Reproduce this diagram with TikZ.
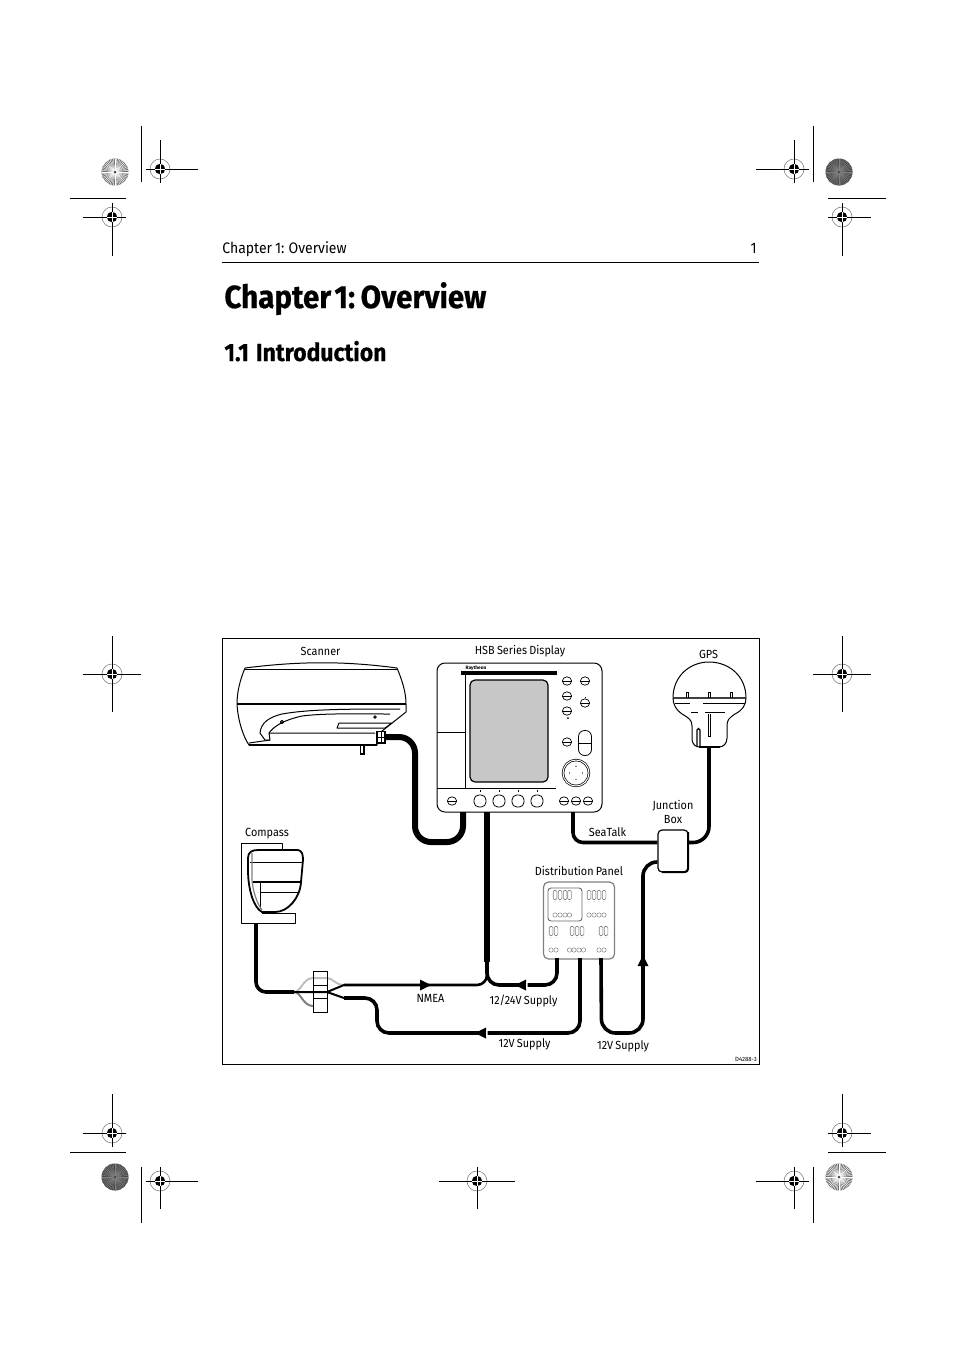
\documentclass[tikz,border=0pt]{standalone}
\usepackage{fontspec}
\setmainfont{Fira Sans}
\newfontfamily\lblfam[FakeStretch=.92,WordSpace=.8]{Fira Sans}
\newfontfamily\headfam[FakeStretch=.925,WordSpace=.45,BoldFeatures={FakeBold=.5}]{Fira Sans}
\usetikzlibrary{shapes.geometric}
\newcommand{\lblfont}{\lblfam\fontsize{5.9}{7}\selectfont}
% registration mark: x, y, left, right, up, down
\newcommand{\regmark}[6]{
  \draw[gray,line width=.3pt] (#1,#2) circle (10);
  \fill (#1,#2) circle (5.2);
  \draw[white,line width=.25pt] (#1-5,#2) -- (#1+5,#2) (#1,#2-5) -- (#1,#2+5);
  \draw[crop] (#1-#3,#2) -- (#1-5,#2) (#1+5,#2) -- (#1+#4,#2) (#1,#2-#5) -- (#1,#2-5) (#1,#2+5) -- (#1,#2+#6);
}
% colour target: x, y, disc, rays
\newcommand{\burst}[4]{
  \fill[#3] (#1,#2) circle (13.5);
  \foreach \a in {0,7.5,...,352.5} \draw[#4,line width=.2pt] (#1,#2) -- ++(\a:13.5);
  \fill[black!70] (#1,#2) circle (1.5);
}
\newcommand{\ctip}[3]{
  \fill[shift={(#1,#2)},rotate=#3] (0,0) -- (-11,5.5) -- (-11,-5.5) -- cycle;
}
\tikzset{
  crop/.style={line width=.5pt},
  cable/.style={line width=2.3pt,rounded corners=6pt},
  thincable/.style={line width=1.8pt,rounded corners=5pt},
  part/.style={line width=.5pt,line join=round},
  lbl/.style={font=\lblfont,inner sep=0pt,align=center},
  btn/.style={ellipse,draw,line width=.35pt,minimum width=4.6pt,minimum height=4.2pt,inner sep=0pt},
  softkey/.style={draw,line width=.4pt,rounded corners=2.4pt,minimum width=6pt,minimum height=6pt,inner sep=0pt},
  fuse/.style={draw=black!50,line width=.3pt,rounded corners=.5pt,minimum width=1.8pt,minimum height=4.5pt,inner sep=0pt},
  lamp/.style={circle,draw=black!50,line width=.25pt,minimum size=2.2pt,inner sep=0pt},
  block/.style={draw,line width=.5pt,minimum width=7pt,minimum height=6.75pt,inner sep=0pt}
}
\begin{document}
\begin{tikzpicture}[x=.5pt,y=-.5pt]
  \useasboundingbox (0,0) rectangle (954,1351);
  % printer marks
  \burst{115}{172}{black!55}{white}
  \burst{839}{172}{black!72}{black!50}
  \burst{115}{1177}{black!72}{black!50}
  \burst{839}{1177}{black!55}{white}
  \regmark{160}{169}{14}{38}{29}{14}
  \regmark{112}{217}{29}{14}{14}{39}
  \regmark{794}{169}{38}{15}{29}{14}
  \regmark{842}{217}{14}{29}{14}{39}
  \regmark{112}{674}{29}{29}{38}{38}
  \regmark{842}{674}{29}{29}{38}{38}
  \regmark{112}{1133}{29}{14}{39}{14}
  \regmark{842}{1133}{14}{29}{39}{14}
  \regmark{160}{1181}{14}{38}{14}{28}
  \regmark{794}{1181}{38}{15}{14}{28}
  \regmark{477}{1181}{38}{38}{14}{28}
  \draw[crop] (141,126) -- (141,182) (813,126) -- (813,182) (141,1167) -- (141,1223) (813,1167) -- (813,1223);
  \draw[crop] (70,198) -- (126,198) (828,198) -- (886,198) (70,1152) -- (126,1152) (828,1152) -- (886,1152);
  % page head
  \node[anchor=base west,inner sep=0pt,font=\lblfam\fontsize{7.6}{9}\selectfont] (head) at (222,253) {Chapter 1: Overview};
  \node[anchor=base east,inner sep=0pt,font=\lblfam\fontsize{7.6}{9}\selectfont] (pageno) at (757,253) {1};
  \draw[line width=.45pt] (222,262) -- (759,262);
  \node[anchor=base west,inner sep=0pt,font=\headfam\fontsize{16}{18}\bfseries\selectfont] (title) at (224,308) {Chapter 1: Overview};
  \node[anchor=base west,inner sep=0pt,font=\headfam\fontsize{12.4}{14}\bfseries\selectfont] (section) at (224,361) {1.1\hspace{3.5pt}Introduction};
  % frame
  \draw[line width=.42pt] (222,638) rectangle (759,1064);
  % scanner
  \draw[part] (245,668) .. controls (240,680) and (237,692) .. (237,704) .. controls (238,722) and (244,738) .. (249,745) -- (377,745) -- (377,735) -- (406,712) -- (406,704) .. controls (406,692) and (402,680) .. (397,668) .. controls (345,661) and (300,661) .. (245,668);
  \draw[line width=.9pt] (245,669.5) -- (397,669.5) (237,704) -- (406,704) (249,745) -- (377,745);
  \draw[part] (260,733) .. controls (261,722) and (270,717) .. (282,714) .. controls (310,709) and (350,709) .. (400,709);
  \draw[part] (269,733) .. controls (274,726) and (284,720) .. (302,716) .. controls (325,713) and (360,714) .. (390,714);
  \draw[part] (260,733) -- (265,740) -- (270,740) -- (269,733) -- (375,733);
  \draw[part] (249,743) -- (270,740);
  \draw[part] (337,728) -- (339,723) -- (392,723) -- (385,728) -- cycle;
  \draw[part] (282,722) circle (1.6) (375,717) circle (1.3);
  \draw[line width=.6pt] (360.5,745) -- (360.5,754) -- (364,754) -- (364,745);
  \node[draw,fill=white,line width=.9pt,minimum width=4pt,minimum height=5.6pt,inner sep=0pt] (scanport) at (381,737) {};
  \draw[line width=.5pt] (381,731) -- (381,743) (377,737) -- (385,737);
  % display
  \node[draw,line width=.5pt,rounded corners=4pt,minimum width=82.5pt,minimum height=74.5pt,inner sep=0pt] (display) at (519.5,737.5) {};
  \draw[line width=.5pt] (465,674) -- (465,788) (437,788) -- (556,788) (437,732) -- (465,732);
  \draw[line width=1.6pt] (461,673) -- (557,673);
  \node[draw,fill=black!22,line width=.6pt,rounded corners=2.5pt,minimum width=39pt,minimum height=51pt,inner sep=0pt] (screen) at (509,731) {};
  \node[lbl,font=\fontsize{2.4}{3}\bfseries\selectfont] (brand) at (476,668) {Raytheon};
  \foreach \x/\y [count=\n] in {567/681,585/681,567/696,585/703,567/711,567/742,452/801,564/801,576/801,588/801} {
    \node[btn] (btn\n) at (\x,\y) {};
    \draw[line width=.2pt] (btn\n.west) -- (btn\n.east);
  }
  \fill (568,718) circle (1);
  \draw[line width=.35pt] (585,697.5) -- (585,696.5);
  \node[draw,line width=.4pt,rounded corners=3pt,minimum width=6.5pt,minimum height=12.5pt,inner sep=0pt] (rangekey) at (585,743) {};
  \draw[line width=.2pt] (rangekey.west) -- (rangekey.east);
  \node[circle,draw,double,double distance=.5pt,line width=.35pt,minimum size=13pt,inner sep=0pt] (trackpad) at (576,773) {};
  \foreach \a in {0,90,180,270} \fill (trackpad.center) ++(\a:6.5) circle (.6);
  \foreach \x [count=\n] in {480,499,518,537} {
    \node[softkey] (soft\n) at (\x,801) {};
    \draw[line width=.3pt] (\x,790) -- (\x,792);
  }
  % compass
  \draw[part] (282,849) -- (282,843) -- (241,843) -- (241,923) -- (295,923) -- (295,913) -- (262,913);
  \draw[line width=.9pt,fill=white] (248,858) .. controls (248,852) and (252,850) .. (258,850) -- (298,850) .. controls (302,851) and (303,854) .. (303,860) -- (301,882) .. controls (300,898) and (288,912) .. (275,912) -- (262,912) .. controls (254,908) and (248,890) .. (248,870) -- cycle;
  \draw[part] (250,862) -- (302,862);
  \draw[line width=1pt] (253,881.5) -- (301,881.5);
  \draw[part] (260,882) -- (260,909) (260,892) -- (299,892);
  \draw[gray,line width=.6pt] (252,853) -- (252,880) .. controls (253,890) and (256,902) .. (262,910);
  \coordinate (compassout) at (256,923);
  % junction box
  \node[draw,fill=white,line width=.6pt,rounded corners=2pt,minimum width=15pt,minimum height=21pt,inner sep=0pt] (junction) at (673,851) {};
  \draw[line width=1pt,rounded corners=1.5pt] (688,832) -- (688,872) -- (662,872);
  % gps
  \draw[part] (673,698) .. controls (673,676) and (690,662) .. (709,662) .. controls (729,662) and (746,676) .. (746,698);
  \draw[line width=1.1pt,black!75] (673,698) -- (746,698);
  \draw[part] (673,698) .. controls (673,704) and (676,710) .. (682,714) .. controls (689,718) and (692,720) .. (692,726) -- (692,738) .. controls (692,745) and (696,747) .. (700,747);
  \draw[part] (746,698) .. controls (746,704) and (743,710) .. (735,714) .. controls (729,718) and (727,720) .. (727,726) -- (727,738) .. controls (727,744) and (723,747) .. (719,747);
  \draw[line width=1pt] (699,747) -- (720,747);
  \draw[part] (675,703.5) -- (690,703.5) (703,703.5) -- (745,703.5) (691,712) -- (698,712) (705,712) -- (725,712);
  \foreach \x in {687,709,731} \draw[line width=.4pt] (\x-1,698) -- (\x-1,692) -- (\x+1,692) -- (\x+1,698);
  \draw[line width=.4pt] (708,714) -- (708,736) -- (710,736) -- (710,714);
  \draw[line width=.6pt] (697,746) -- (697,730) .. controls (697,728) and (700,728) .. (700,730) -- (700,746);
  \coordinate (gpsout) at (709,747);
  % distribution panel
  \node[draw=black!50,line width=.6pt,rounded corners=2.5pt,minimum width=35.5pt,minimum height=38.5pt,inner sep=0pt] (panel) at (579,920.5) {};
  \node[draw=black!60,line width=.45pt,rounded corners=1.5pt,minimum width=17pt,minimum height=16.5pt,inner sep=0pt] (fuseblock) at (565,904.5) {};
  \foreach \x [count=\n] in {555,560,565,569.5,589,594,599,604} {
    \node[fuse] (fa\n) at (\x,895) {};
    \node[lamp] (la\n) at (\x,915) {};
    \fill[black!50] (fa\n.south) ++(0,2) circle (.4);
  }
  \foreach \x [count=\n] in {551,556,572,577,582,601,606} {
    \node[fuse] (fb\n) at (\x,931) {};
    \fill[black!50] (fb\n.south) ++(0,2) circle (.4);
  }
  \foreach \x [count=\n] in {551,556,569.5,574,579,583.5,599,604} \node[lamp] (lb\n) at (\x,950) {};
  % wires at the block on the compass lead
  \coordinate (splitl) at (294,992);
  \coordinate (splitr) at (327,992);
  \coordinate (nmeain) at (344,985);
  \coordinate (supin) at (344,998);
  \draw[black!25,line width=1pt] (splitl) .. controls (301,992) and (303,978) .. (313,978) -- (327,978) .. controls (333,978) and (335,985) .. (nmeain);
  \draw[black!50,line width=1pt] (splitl) .. controls (301,992) and (303,1006) .. (313,1006);
  \draw[line width=1pt] (splitl) -- (splitr) -- (nmeain) (splitr) -- (supin);
  \node[block] (blocka) at (320,978.5) {};
  \node[block] (blockb) at (320,992) {};
  \node[block] (blockc) at (320,1005.5) {};
  \draw[line width=1pt] (blockb.west) -- (blockb.east);
  % cables
  \coordinate (dispa) at (463,812);
  \coordinate (dispb) at (487,812);
  \coordinate (dispc) at (573,812);
  \coordinate (pana) at (557,958);
  \coordinate (panb) at (580,958);
  \coordinate (panc) at (601,958);
  \coordinate (nmeajoin) at (487,962);
  \draw[cable,line width=3pt,rounded corners=8pt] (scanport.east) -- (415,737) -- (415,842) -- (463,842) -- (dispa);
  \draw[line width=2.8pt] (dispb) -- (nmeajoin);
  \draw[thincable] (dispc) -- (573,842.5) -- (junction.west |- 0,842.5);
  \draw[thincable,rounded corners=8pt] (gpsout) -- (709,842.5) -- (junction.east |- 0,842.5);
  \draw[thincable,rounded corners=7pt] (junction.west |- 0,862) -- (643,862) -- (643,1033) -- (601.5,1033) -- (panc);
  \draw[thincable] (compassout) -- (256,992) -- (splitl);
  \draw[line width=1.3pt,rounded corners=5pt] (nmeain) -- (487,985) -- (nmeajoin);
  \draw[thincable,rounded corners=6pt] (pana) -- (557,985) -- (487,985) -- (nmeajoin);
  \draw[thincable,rounded corners=6pt] (panb) -- (580,1033) -- (377,1033) -- (377,998) -- (supin);
  % arrows on the cables
  \ctip{431}{985}{0}
  \ctip{515}{985}{180}
  \ctip{475}{1033}{180}
  \ctip{643}{955}{90}
  \fill[white] (526,982) rectangle (527.5,988) (486,1030) rectangle (487.5,1036);
  % labels
  \node[lbl] (scannerlbl) at (320.5,651) {Scanner};
  \node[lbl] (displaylbl) at (520,651) {HSB Series Display};
  \node[lbl] (gpslbl) at (708.5,654) {GPS};
  \node[lbl] (junctionlbl) at (673,812) {Junction\\Box};
  \node[lbl] (compasslbl) at (267,834) {Compass};
  \node[lbl] (seatalklbl) at (607.5,832) {SeaTalk};
  \node[lbl] (panellbl) at (579,871) {Distribution Panel};
  \node[lbl] (nmealbl) at (430.5,998) {NMEA};
  \node[lbl] (supplya) at (523.5,1001) {12/24V Supply};
  \node[lbl] (supplyb) at (524.5,1044) {12V Supply};
  \node[lbl] (supplyc) at (623,1046) {12V Supply};
  \node[lbl,font=\fontsize{3}{4}\selectfont] (drawingno) at (746,1059) {D4288-3};
\end{tikzpicture}
\end{document}
